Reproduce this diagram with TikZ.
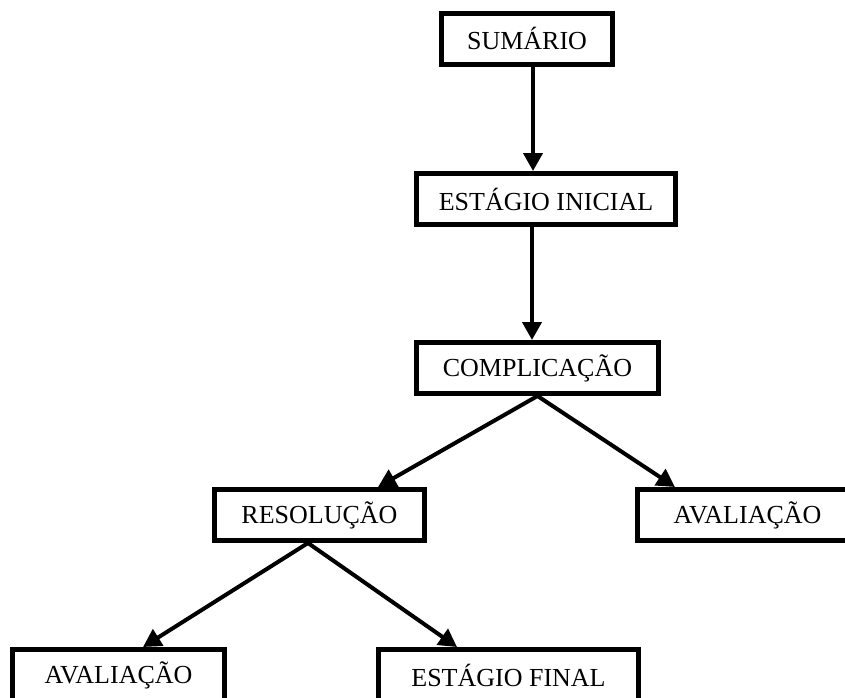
\documentclass[tikz,border=0pt]{standalone}
\usepackage{fontspec}
\setmainfont{Liberation Serif}
\usetikzlibrary{arrows.meta, positioning}

\begin{document}
\begin{tikzpicture}[x=1pt,y=-1pt,>={Triangle[length=18pt,width=19pt]},line width=4pt]

	\tikzset{box/.style={draw, line width=5pt, inner sep=0pt,
			minimum height=51pt,
			font=\fontsize{26pt}{30pt}\selectfont}}

	\clip (0,0) rectangle (845,697);

	\node[box, minimum width=171pt] (sum) at (527,38.5) {SUMÁRIO};
	\node[box, minimum width=259pt] (ini) at (546,199) {ESTÁGIO INICIAL};
	\node[box, minimum width=242pt] (comp) at (537.5,368) {COMPLICAÇÃO};
	\node[box, minimum width=210pt] (reso) at (319.5,515) {RESOLUÇÃO};
	\node[box, minimum width=220pt] (avr) at (747.5,515) {AVALIAÇÃO};
	\node[box, minimum width=212pt] (avl) at (118.5,675) {AVALIAÇÃO};
	\node[box, minimum width=260pt] (fin) at (508.5,675) {ESTÁGIO FINAL};

	\draw[->] ([xshift=6pt]sum.south) -- ([xshift=-13pt]ini.north);
	\draw[->] ([xshift=-14pt]ini.south) -- ([xshift=-5.5pt]comp.north);
	\draw[->] (comp.south) -- ([xshift=58.5pt]reso.north);
	\draw[->] (comp.south) -- ([xshift=-72.5pt]avr.north);
	\draw[->] ([xshift=-11.5pt]reso.south) -- ([xshift=24.5pt]avl.north);
	\draw[->] ([xshift=-11.5pt]reso.south) -- ([xshift=-51.5pt]fin.north);
\end{tikzpicture}
\end{document}
